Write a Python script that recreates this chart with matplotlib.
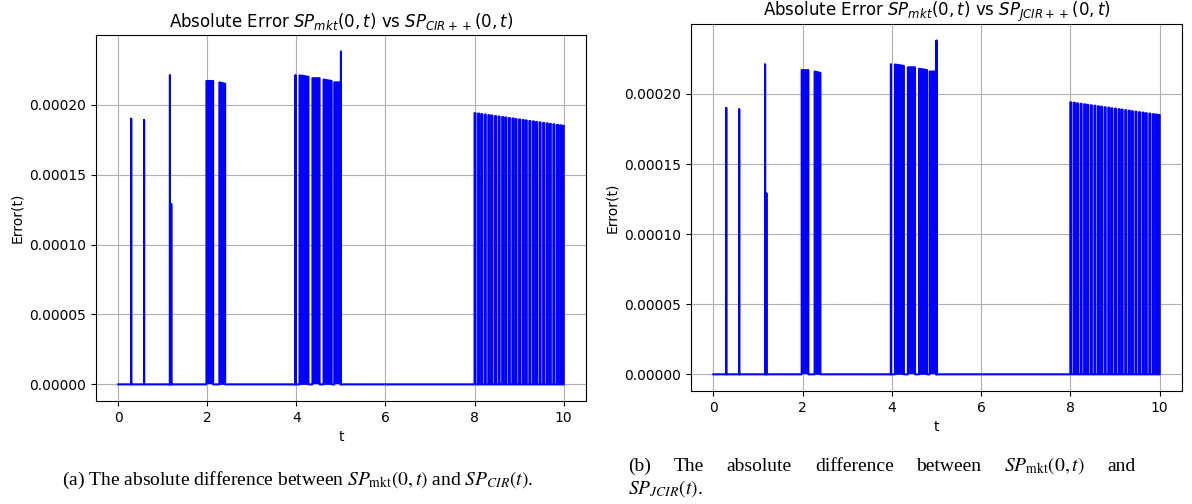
import matplotlib
matplotlib.use('Agg')
import matplotlib.pyplot as plt

# spikes (t, height)
spike_t = [0.29, 0.58, 1.16, 1.19, 3.98, 5.00]
spike_h = [0.000190, 0.000189, 0.000221, 0.000129, 0.000221, 0.000238]

# solid blocks of dense spikes (start, end, height at start, height at end)
block_start = [1.98, 2.27, 4.07, 4.36, 4.61, 4.85]
block_end = [2.13, 2.40, 4.27, 4.52, 4.79, 4.99]
block_h0 = [0.000217, 0.000216, 0.000221, 0.000219, 0.000218, 0.000216]
block_h1 = [0.000217, 0.000215, 0.000220, 0.000219, 0.000217, 0.000216]

# regular spike train between t = 8 and t = 10
train_t = [8.00, 8.08, 8.15, 8.23, 8.31, 8.38, 8.46, 8.54, 8.62, 8.69,
           8.77, 8.85, 8.92, 9.00, 9.08, 9.15, 9.23, 9.31, 9.38, 9.46,
           9.54, 9.62, 9.69, 9.77, 9.85, 9.92, 9.98]
train_h = [0.0001940, 0.0001937, 0.0001933, 0.0001930, 0.0001926, 0.0001923,
           0.0001919, 0.0001916, 0.0001912, 0.0001909, 0.0001905, 0.0001902,
           0.0001898, 0.0001895, 0.0001891, 0.0001888, 0.0001884, 0.0001881,
           0.0001877, 0.0001874, 0.0001870, 0.0001867, 0.0001863, 0.0001860,
           0.0001856, 0.0001853, 0.0001850]
TRAIN_W = 0.022

T_START, T_END = 0.0, 10.0

titles = [r'Absolute Error $SP_{mkt}(0,t)$ vs $SP_{CIR++}(0,t)$',
          r'Absolute Error $SP_{mkt}(0,t)$ vs $SP_{JCIR++}(0,t)$']

W, H = 1192, 504
fig = plt.figure(figsize=(W / 100, H / 100), dpi=100)
fig.patch.set_facecolor('white')


def px(x0, y0, x1, y1):
    # axes rect from pixel corners (top-left, bottom-right)
    return [x0 / W, 1 - y1 / H, (x1 - x0) / W, (y1 - y0) / H]


def build_series():
    events = []
    for t, h in zip(spike_t, spike_h):
        events.append((t, t, h, h))
    for a, b, h0, h1 in zip(block_start, block_end, block_h0, block_h1):
        events.append((a, b, h0, h1))
    for t, h in zip(train_t, train_h):
        events.append((t, t + TRAIN_W, h, h))
    events.sort()
    ts, es = [T_START], [0.0]
    for a, b, h0, h1 in events:
        ts += [a, a, b, b]
        es += [0.0, h0, h1, 0.0]
    ts.append(T_END)
    es.append(0.0)
    return ts, es


def panel(rect, title):
    ax = fig.add_axes(rect)
    ts, es = build_series()
    ax.plot(ts, es, color='blue', lw=1.5)
    for a, b, h0, h1 in zip(block_start, block_end, block_h0, block_h1):
        ax.fill_between([a, b], [h0, h1], 0, color='blue', lw=0)
    ax.set_title(title, fontsize=12)
    ax.set_xlabel('t', fontsize=10)
    ax.set_ylabel('Error(t)', fontsize=10)
    ax.set_xticks([0, 2, 4, 6, 8, 10])
    ax.set_yticks([0, 0.00005, 0.0001, 0.00015, 0.0002])
    ax.set_yticklabels(['0.00000', '0.00005', '0.00010', '0.00015', '0.00020'])
    ax.tick_params(labelsize=10)
    ax.grid(True, color='#b0b0b0', lw=0.8)
    ax.set_axisbelow(True)
    return ax


panel(px(96, 35, 586, 401), titles[0])
panel(px(691, 24, 1182, 391), titles[1])

CAP = dict(family='Liberation Serif', fontsize=14, math_fontfamily='stix',
           color='black', va='baseline')

fig.text(62 / W, 1 - 485 / H,
         r'(a) The absolute difference between $SP_{\mathrm{mkt}}(0,t)$ and $SP_{CIR}(t)$.',
         ha='left', **CAP)

# caption (b): first line justified between two pixel edges
words = ['(b)', 'The', 'absolute', 'difference', 'between',
         r'$SP_{\mathrm{mkt}}(0,t)$', 'and']
x_left, x_right, y_line1 = 628, 1136, 471
r = fig.canvas.get_renderer()
txts = [fig.text(0, 1 - y_line1 / H, w_, ha='left', **CAP) for w_ in words]
widths = [t.get_window_extent(r).width for t in txts]
gap = (x_right - x_left - sum(widths)) / (len(words) - 1)
x = x_left
for t, wd in zip(txts, widths):
    t.set_x(x / W)
    x += wd + gap
fig.text(x_left / W, 1 - 494 / H, r'$SP_{JCIR}(t)$.', ha='left', **CAP)

fig.savefig('out.png', dpi=100, facecolor='white')
